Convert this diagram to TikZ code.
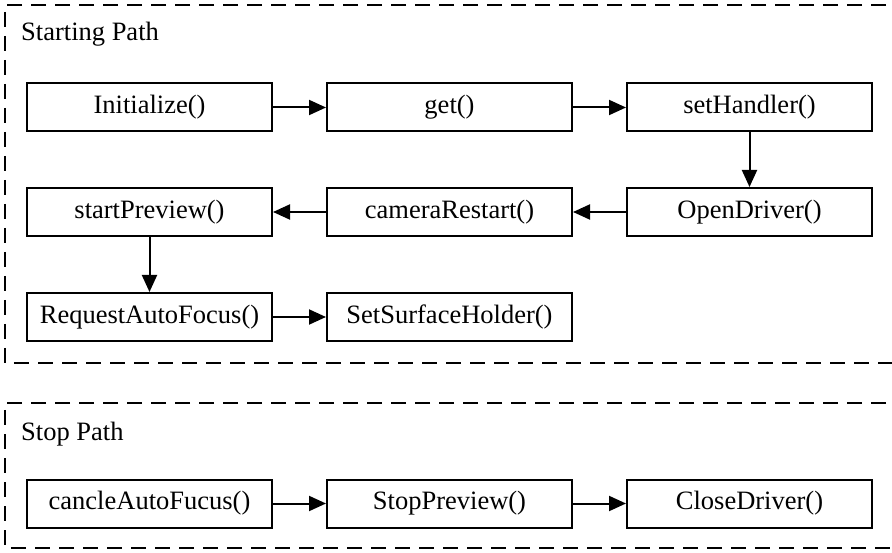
\documentclass[tikz,border=0pt]{standalone}
\usepackage{fontspec}
\setmainfont{Liberation Serif}
\usetikzlibrary{arrows.meta}
\begin{document}
\begin{tikzpicture}[x=1pt,y=-1pt,
  fn/.style={draw, line width=2pt, minimum width=245pt, minimum height=48pt,
             inner sep=0pt, font=\fontsize{26.5}{30}\selectfont, anchor=center},
  group/.style={draw, line width=2pt, dash pattern=on 15pt off 9pt},
  flow/.style={line width=2pt, -{Triangle[length=17pt,width=15pt]}},
  title/.style={font=\fontsize{26.5}{30}\selectfont, anchor=base west, inner sep=0pt}]
\clip (0,0) rectangle (892,553);
\fill[white] (0,0) rectangle (892,553);

% group frames (open on the right)
\draw[group] (910,5) -- (5,5) -- (5,363) -- (910,363);
\draw[group] (910,403) -- (5,403) -- (5,548) -- (910,548);

\node[title] (t1) at (21,41) {Starting Path};
\node[title] (t2) at (21,440) {Stop Path};

% starting path
\node[fn] (init) at (149.5,107.5) {Initialize()};
\node[fn] (get)  at (449.5,107.5) {get()};
\node[fn] (seth) at (749.5,107.5) {setHandler()};
\node[fn] (sp)   at (149.5,212) {startPreview()};
\node[fn] (cr)   at (449.5,212) {cameraRestart()};
\node[fn] (od)   at (749.5,212) {OpenDriver()};
\node[fn] (raf)  at (149.5,317) {RequestAutoFocus()};
\node[fn] (ssh)  at (449.5,317) {SetSurfaceHolder()};

\draw[flow] (init) -- (get);
\draw[flow] (get) -- (seth);
\draw[flow] (seth) -- (od);
\draw[flow] (od) -- (cr);
\draw[flow] (cr) -- (sp);
\draw[flow] (sp) -- (raf);
\draw[flow] (raf) -- (ssh);

% stop path
\node[fn] (caf) at (149.5,503.5) {cancleAutoFucus()};
\node[fn] (stp) at (449.5,503.5) {StopPreview()};
\node[fn] (cd)  at (749.5,503.5) {CloseDriver()};

\draw[flow] (caf) -- (stp);
\draw[flow] (stp) -- (cd);
\end{tikzpicture}
\end{document}
